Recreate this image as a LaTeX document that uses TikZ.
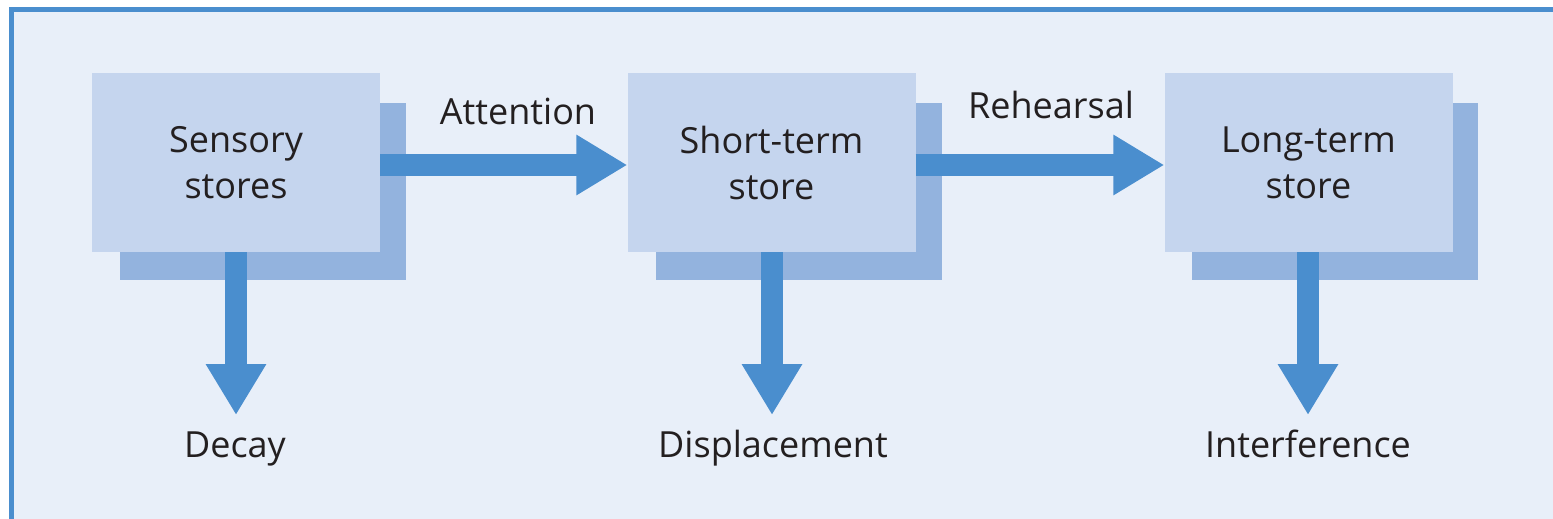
\documentclass[tikz,border=0pt]{standalone}
\usepackage{fontspec}
\setmainfont{Open Sans}
\usetikzlibrary{arrows.meta,calc}
\definecolor{bgblue}{HTML}{E8EFF9}
\definecolor{frontblue}{HTML}{C5D5EE}
\definecolor{shadowblue}{HTML}{93B3DE}
\definecolor{arrowblue}{HTML}{4A8ECE}
\definecolor{txt}{HTML}{231F20}
\tikzset{
  front/.style={fill=frontblue, draw=none, inner sep=0pt, minimum width=288pt, minimum height=179pt, align=center, text=txt, font=\fontsize{36}{46}\selectfont},
  shadowbox/.style={fill=shadowblue, draw=none, inner sep=0pt, minimum width=286pt, minimum height=177pt},
  lbl/.style={anchor=base, inner sep=0pt, text=txt, font=\fontsize{36}{46}\selectfont},
  bigarrow/.style={draw=arrowblue, line width=22pt, -{Triangle[width=57pt,length=51pt,fill=arrowblue]}}
}
\begin{document}
\begin{tikzpicture}[x=1pt,y=-1pt]
\useasboundingbox (0,0) rectangle (1553,519);
\fill[white] (0,0) rectangle (1553,519);
\fill[bgblue] (9,7) rectangle (1553,519);
\fill[arrowblue] (9,7) rectangle (1553,12);
\fill[arrowblue] (9,7) rectangle (14,519);
% boxes
\node[shadowbox] (s1) at (263,191.5) {};
\node[front] (b1) at (236,162.5) {Sensory\\stores};
\node[shadowbox] (s2) at (798.5,191.5) {};
\node[front] (b2) at (771.5,162.5) {Short-term\\store};
\node[shadowbox] (s3) at (1335,191.5) {};
\node[front] (b3) at (1308.5,162.5) {Long-term\\store};
% labels
\node[lbl] (att) at (518,124) {Attention};
\node[lbl] (reh) at (1051,118) {Rehearsal};
\node[lbl] (dec) at (235,457) {Decay};
\node[lbl] (dis) at (773,457) {Displacement};
\node[lbl] (int) at (1308,457) {Interference};
% arrows
\coordinate (d1) at (236,415);
\coordinate (d2) at (772,415);
\coordinate (d3) at (1308,415);
\draw[bigarrow] (b1.east |- 0,165) -- (b2.west |- 0,165);
\draw[bigarrow] (b2.east |- 0,165) -- (b3.west |- 0,165);
\draw[bigarrow] (b1.south -| d1) -- (d1);
\draw[bigarrow] (b2.south -| d2) -- (d2);
\draw[bigarrow] (b3.south -| d3) -- (d3);
\end{tikzpicture}
\end{document}
